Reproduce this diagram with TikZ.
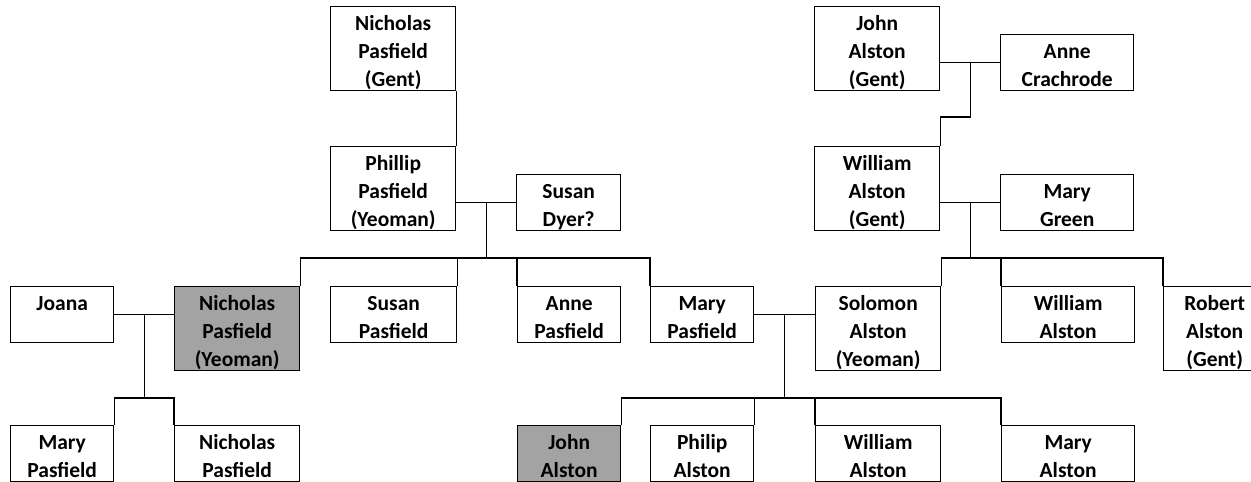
\documentclass[tikz,border=0pt]{standalone}
\usepackage{fontspec}
\setmainfont{Carlito}
\usetikzlibrary{calc}
\newcommand{\tstrut}{\rule[-4pt]{0pt}{28pt}}
\begin{document}
\begin{tikzpicture}[x=1pt,y=-1pt,line width=1.4pt,
  pers/.style={draw,fill=white,anchor=north west,inner xsep=0pt,inner ysep=0pt,
    text width=#1,align=center,font=\fontsize{21.5}{28}\selectfont\bfseries,
    execute at begin node=\tstrut,execute at end node=\tstrut},
  pers/.default=125pt,
  hi/.style={fill=black!36}]
  \clip (0,0) rectangle (1251,482);
  \fill[white] (0,0) rectangle (1251,482);
  % Pasfield side
  \node[pers] (npg) at (330,6) {Nicholas\\Pasfield\\(Gent)};
  \node[pers] (pp) at (330,146) {Phillip\\Pasfield\\(Yeoman)};
  \node[pers=104pt] (sd) at (516,174) {Susan\\Dyer?};
  % Alston side
  \node[pers] (ja) at (814,6) {John\\Alston\\(Gent)};
  \node[pers=133pt] (ac) at (1000,34) {Anne\\Crachrode};
  \node[pers] (wa) at (814,146) {William\\Alston\\(Gent)};
  \node[pers=133pt] (mg) at (1000,174) {Mary\\Green};
  % third row
  \node[pers=103pt] (jo) at (10,286) {Joana\\\mbox{}};
  \node[pers,hi] (ny) at (174,286) {Nicholas\\Pasfield\\(Yeoman)};
  \node[pers=126pt] (sp) at (330,286) {Susan\\Pasfield};
  \node[pers=103pt] (ap) at (517,286) {Anne\\Pasfield};
  \node[pers=103pt] (mp) at (650,286) {Mary\\Pasfield};
  \node[pers] (sa) at (815,286) {Solomon\\Alston\\(Yeoman)};
  \node[pers=133pt] (wa2) at (1001,286) {William\\Alston};
  \node[pers=102pt] (ra) at (1163,286) {Robert\\Alston\\(Gent)};
  % bottom row
  \node[pers=103pt] (mp2) at (10,425) {Mary\\Pasfield};
  \node[pers] (np) at (174,425) {Nicholas\\Pasfield};
  \node[pers=103pt,hi] (jal) at (517,425) {John\\Alston};
  \node[pers=103pt] (pa) at (650,425) {Philip\\Alston};
  \node[pers] (wal) at (815,425) {William\\Alston};
  \node[pers=133pt] (mal) at (1001,425) {Mary\\Alston};

  % Pasfield lines
  \draw (npg.south east) -- (pp.north east);
  \draw (pp.east |- sd.west) -- (sd.west);
  \coordinate (pm) at ($(pp.east |- sd.west)!0.5!(sd.west)$);
  \coordinate (pb) at (pm |- 0,258);
  \draw (pm) -- (pb);
  \draw (ny.north east) |- (pb) -| (mp.north west);
  \draw (sp.north east) -- (sp.north east |- pb);
  \draw (ap.north west) -- (ap.north west |- pb);
  % Alston lines
  \draw (ja.east |- ac.west) -- (ac.west);
  \coordinate (am) at ($(ja.east |- ac.west)!0.5!(ac.west)$);
  \coordinate (ak) at (am |- 0,117);
  \draw (am) -- (ak) -| (wa.north east);
  \draw (wa.east |- mg.west) -- (mg.west);
  \coordinate (wm) at ($(wa.east |- mg.west)!0.5!(mg.west)$);
  \coordinate (wb) at (wm |- 0,258);
  \draw (wm) -- (wb);
  \draw (sa.north east) |- (wb) -| (ra.north west);
  \draw (wa2.north west) -- (wa2.north west |- wb);
  % Joana and Nicholas
  \draw (jo.east) -- (jo.east -| ny.west);
  \coordinate (jm) at ($(jo.east)!0.5!(jo.east -| ny.west)$);
  \coordinate (jb) at (jm |- 0,398);
  \draw (jm) -- (jb);
  \draw (mp2.north east) |- (jb) -| (np.north west);
  % Mary and Solomon
  \draw (mp.east) -- (mp.east -| sa.west);
  \coordinate (mm) at ($(mp.east)!0.5!(mp.east -| sa.west)$);
  \coordinate (mb) at (mm |- 0,398);
  \draw (mm) -- (mb);
  \draw (jal.north east) |- (mb) -| (mal.north west);
  \draw (pa.north east) -- (pa.north east |- mb);
  \draw (wal.north west) -- (wal.north west |- mb);
\end{tikzpicture}
\end{document}
